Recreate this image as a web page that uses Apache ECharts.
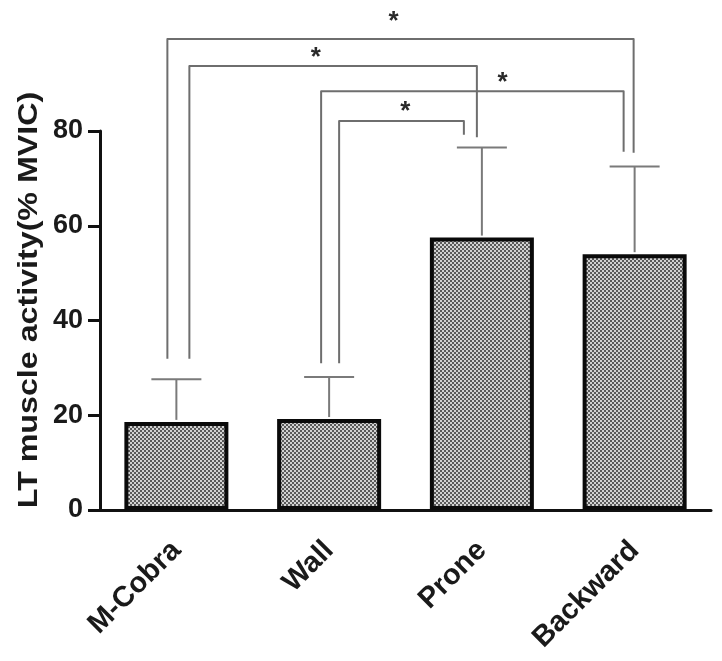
<!DOCTYPE html>
<html>
<head>
<meta charset="utf-8">
<script src="https://cdn.jsdelivr.net/npm/echarts@6/dist/echarts.min.js"></script>
<style>
html,body{margin:0;padding:0;background:#fff;}
#chart{width:722px;height:661px;}
</style>
</head>
<body>
<div id="chart"></div>
<script>
// ---- data ----
const categories = ['M-Cobra', 'Wall', 'Prone', 'Backward'];
const means = [18.6, 19.2, 57.5, 54.0];
const errorUpper = [27.6, 28.1, 76.5, 72.5];
const yMin = 0, yMax = 80, yInterval = 20;
const axisTitle = 'LT muscle activity(% MVIC)';
// significance comparisons
const sigPairs = [[0, 3], [0, 2], [1, 3], [1, 2]];
const sigLevels = [99.4, 93.7, 88.4, 82.1];
const sigLeftEnds = [31.9, 31.9, 31.0, 31.0];
const sigRightEnds = [75.4, 78.7, 75.6, 79.2];
const sigStarLevels = [104.3, 96.7, 91.4, 85.3];
const sigLabels = ['*', '*', '*', '*'];

// ---- styling (pixel offsets etc.) ----
const sigLeftOffsets = [-9, 13, -8, 10];
const sigRightOffsets = [-1, -5, -11, -18];
const sigStarFrac = [0.485, 0.44, 0.6, 0.53];

// checker pattern for bars
const tile = document.createElement('canvas');
tile.width = 4; tile.height = 4;
const tctx = tile.getContext('2d');
tctx.fillStyle = '#5a5a5a'; tctx.fillRect(0, 0, 4, 4);
tctx.fillStyle = '#d2d2d2';
tctx.fillRect(0, 0, 2, 2);
tctx.fillRect(2, 2, 2, 2);

const chart = echarts.init(document.getElementById('chart'));

const errData = categories.map((c, i) => [i, means[i], errorUpper[i]]);
const sigData = sigPairs.map((p, i) => [p[0], sigLevels[i], p[1], sigLeftEnds[i], sigRightEnds[i], sigStarLevels[i], i]);

chart.setOption({
  animation: false,
  backgroundColor: '#ffffff',
  grid: { left: 100, right: 11, top: 131, bottom: 151 },
  xAxis: {
    type: 'category',
    data: categories,
    axisLine: { lineStyle: { color: '#111', width: 3 } },
    axisTick: { alignWithLabel: true, length: 9, lineStyle: { color: '#111', width: 3 } },
    axisLabel: {
      rotate: 45, margin: 36, color: '#1a1a1a',
      fontFamily: 'Liberation Sans', fontWeight: 'bold', fontSize: 29
    }
  },
  yAxis: {
    type: 'value', min: yMin, max: yMax, interval: yInterval,
    splitLine: { show: false },
    axisLine: { show: true, lineStyle: { color: '#111', width: 3 } },
    axisTick: { show: true, length: 12, lineStyle: { color: '#111', width: 3 } },
    axisLabel: {
      margin: 17, color: '#1a1a1a',
      fontFamily: 'Liberation Sans', fontWeight: 'bold', fontSize: 27
    }
  },
  graphic: [{
    type: 'text',
    x: 29, y: 300,
    rotation: Math.PI / 2,
    scaleX: 1.15,
    style: {
      text: axisTitle,
      fontFamily: 'Liberation Sans', fontWeight: 'bold', fontSize: 28,
      fill: '#1a1a1a', textAlign: 'center', textVerticalAlign: 'middle'
    }
  }],
  series: [
    {
      type: 'bar',
      data: means,
      barWidth: 104,
      itemStyle: {
        color: { image: tile, repeat: 'repeat' },
        borderColor: '#0a0a0a',
        borderWidth: 4
      },
      z: 2
    },
    {
      type: 'custom',
      data: errData,
      encode: { x: 0, y: 2 },
      z: 3,
      renderItem: function (params, api) {
        const x = api.value(0);
        const lo = api.coord([x, api.value(1)]);
        const hi = api.coord([x, api.value(2)]);
        const half = 25;
        const st = { stroke: '#7a7a7a', lineWidth: 2 };
        return {
          type: 'group',
          children: [
            { type: 'line', shape: { x1: lo[0], y1: lo[1] - 2, x2: hi[0], y2: hi[1] }, style: st },
            { type: 'line', shape: { x1: hi[0] - half, y1: hi[1], x2: hi[0] + half, y2: hi[1] }, style: st }
          ]
        };
      }
    },
    {
      type: 'custom',
      data: sigData,
      encode: { x: 0, y: 1 },
      clip: false,
      z: 4,
      renderItem: function (params, api) {
        const a = api.value(0), lvl = api.value(1), b = api.value(2);
        const le = api.value(3), re = api.value(4), sl = api.value(5);
        const i = api.value(6);
        const pL = api.coord([a, lvl]);
        const pR = api.coord([b, lvl]);
        const pLe = api.coord([a, le]);
        const pRe = api.coord([b, re]);
        const pS = api.coord([a, sl]);
        const xl = pL[0] + sigLeftOffsets[i];
        const xr = pR[0] + sigRightOffsets[i];
        const xs = xl + (xr - xl) * sigStarFrac[i];
        return {
          type: 'group',
          children: [
            {
              type: 'polyline',
              shape: { points: [[xl, pLe[1]], [xl, pL[1]], [xr, pL[1]], [xr, pRe[1]]] },
              style: { stroke: '#6e6e6e', lineWidth: 2, fill: null, lineJoin: 'round' }
            },
            {
              type: 'text',
              x: xs, y: pS[1] + 6,
              style: {
                text: sigLabels[i], fill: '#2a2a2a',
                fontFamily: 'Liberation Sans', fontWeight: 'bold', fontSize: 26,
                textAlign: 'center', textVerticalAlign: 'middle'
              }
            }
          ]
        };
      }
    }
  ]
});
</script>
</body>
</html>
